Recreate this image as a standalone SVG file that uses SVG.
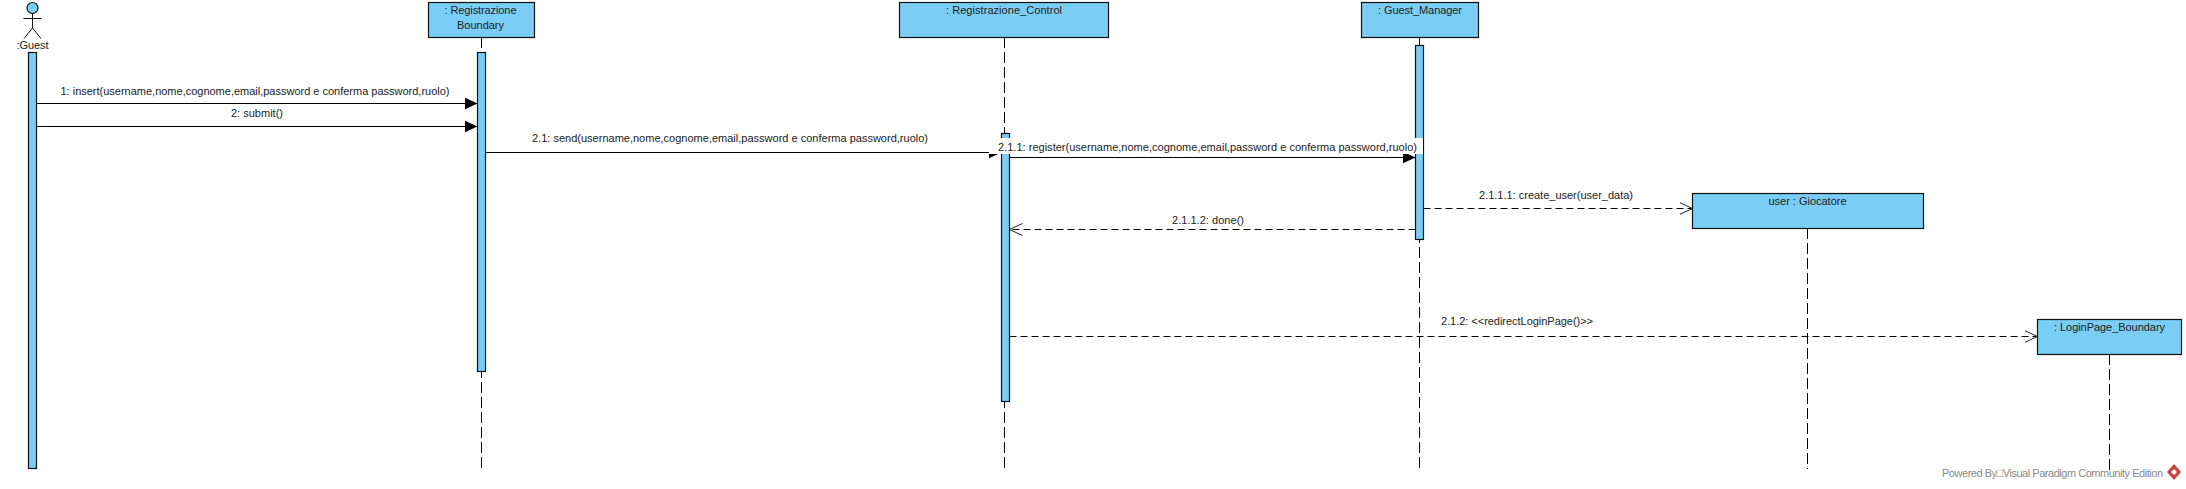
<svg xmlns="http://www.w3.org/2000/svg" width="2186" height="489" viewBox="0 0 2186 489">
<defs>
<marker id="solid" markerUnits="userSpaceOnUse" markerWidth="14" markerHeight="14" refX="13" refY="7" orient="auto"><path d="M0 1L13 7L0 13Z" fill="#000"/></marker>
<marker id="open" markerUnits="userSpaceOnUse" markerWidth="14" markerHeight="14" refX="13" refY="7" orient="auto"><path d="M0 1L13 7L0 13" fill="none" stroke="#222" stroke-width="1"/></marker>
</defs>
<style>
text{font-family:"Liberation Sans",Arial,sans-serif;font-size:11px;fill:#222}
.box,.bar{fill:#7acdf4;stroke:#111;stroke-width:1.2}
.life{stroke:#000;stroke-width:1;fill:none;stroke-dasharray:11 4}
.msg{stroke:#000;stroke-width:1;fill:none;marker-end:url(#solid)}
.ret{stroke:#000;stroke-width:1;fill:none;stroke-dasharray:7 4;marker-end:url(#open)}
.mid{text-anchor:middle}
</style>
<rect width="2186" height="489" fill="#fff"/>
<g id="lifelines">
<path class="life" d="M481.500 37V469"/>
<path class="life" d="M1004.500 37V469"/>
<path class="life" d="M1419.500 37V469"/>
<path class="life" d="M1807.500 228V469"/>
<path class="life" d="M2109.500 354V470"/>
</g>
<g id="guest">
<circle cx="32.500" cy="8" r="5.500" fill="#7acdf4" stroke="#111" stroke-width="1.200"/>
<path d="M32.500 13.500V28M23.500 18.500H41.500M32.500 28L24 38.500M32.500 28L41 38.500" fill="none" stroke="#111"/>
<text x="32.500" y="49" class="mid" textLength="32">:Guest</text>
<rect class="bar" x="28.500" y="52.500" width="8" height="416"/>
</g>
<g id="registrazione-boundary">
<rect class="box" x="428.500" y="2.500" width="106" height="35"/>
<text x="480.500" y="14" class="mid" textLength="72">: Registrazione</text>
<text x="480.500" y="29" class="mid" textLength="47">Boundary</text>
<rect class="bar" x="477.500" y="52.500" width="8" height="319"/>
</g>
<g id="registrazione-control">
<rect class="box" x="899.500" y="2.500" width="209" height="35"/>
<text x="1004" y="14" class="mid" textLength="116">: Registrazione_Control</text>
<rect class="bar" x="1001.500" y="133.500" width="8" height="268"/>
</g>
<g id="guest-manager">
<rect class="box" x="1361.500" y="2.500" width="117" height="35"/>
<text x="1420" y="14" class="mid" textLength="84">: Guest_Manager</text>
<rect class="bar" x="1415.500" y="45.500" width="8" height="194"/>
</g>
<g id="user-giocatore">
<rect class="box" x="1692.500" y="193.500" width="231" height="35"/>
<text x="1807.500" y="205" class="mid" textLength="78">user : Giocatore</text>
</g>
<g id="loginpage-boundary">
<rect class="box" x="2037.500" y="319.500" width="144" height="35"/>
<text x="2109.500" y="331" class="mid" textLength="111">: LoginPage_Boundary</text>
</g>
<g id="connectors">
<path class="msg" d="M36.500 103.500H477.500"/>
<path class="msg" d="M36.500 126.500H477.500"/>
<path class="msg" d="M485.500 152.500H1001.500"/>
<path class="msg" d="M1009.500 157.500H1415.500"/>
<rect x="989" y="138" width="434" height="16" fill="#fff"/>
<path class="ret" d="M1423.500 208.500H1692.500"/>
<path class="ret" d="M1415.500 229.500H1009.500"/>
<path class="ret" d="M1009.500 336.500H2037.500"/>
<text x="60.500" y="95" textLength="389">1: insert(username,nome,cognome,email,password e conferma password,ruolo)</text>
<text x="231" y="117" textLength="52">2: submit()</text>
<text x="532" y="142" textLength="396">2.1: send(username,nome,cognome,email,password e conferma password,ruolo)</text>
<text x="998" y="151" textLength="419">2.1.1: register(username,nome,cognome,email,password e conferma password,ruolo)</text>
<text x="1479" y="199" textLength="154">2.1.1.1: create_user(user_data)</text>
<text x="1172" y="224" textLength="72">2.1.1.2: done()</text>
<text x="1441" y="325" textLength="152">2.1.2: &lt;&lt;redirectLoginPage()&gt;&gt;</text>
</g>
<g id="watermark">
<text x="1942" y="477" style="fill:#8a8a8a" textLength="221">Powered By□Visual Paradigm Community Edition</text>
<path d="M2174 464L2181 472L2174 480L2167 472Z" fill="#c8413c"/>
<path d="M2174 469L2177 472L2174 475L2171 472Z" fill="#fff"/>
</g>
</svg>
